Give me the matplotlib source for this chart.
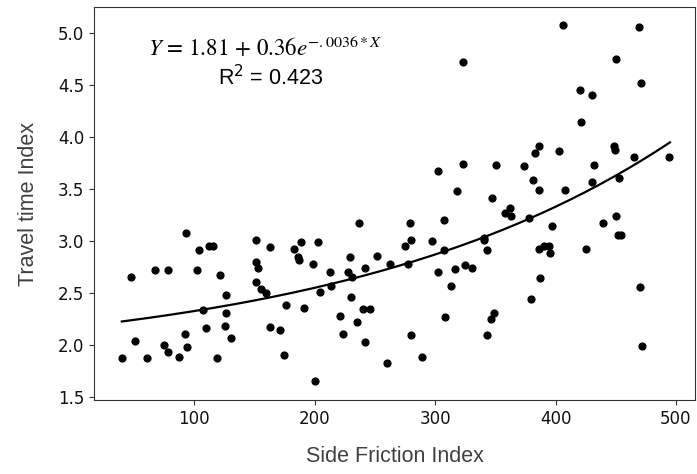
import matplotlib.pyplot as plt
import numpy as np

# side friction index vs travel time index
side_friction = [40.0, 47.5, 50.8, 61.0, 67.6, 75.1, 78.2, 78.7, 87.6, 92.3,
                 93.1, 93.9, 102.2, 104.1, 107.2, 110.0, 112.2, 116.0, 119.1, 121.6,
                 126.0, 126.6, 126.6, 130.7, 151.2, 151.5, 151.7, 152.9, 155.4, 159.5,
                 163.3, 163.3, 171.6, 174.3, 175.9, 182.6, 186.3, 186.7, 189.0, 190.9,
                 198.6, 200.4, 202.7, 204.8, 212.4, 213.5, 221.0, 223.9, 227.6, 229.2,
                 230.3, 231.4, 235.3, 236.9, 240.2, 241.9, 241.9, 246.3, 251.6, 259.9,
                 262.9, 274.9, 277.3, 279.0, 279.8, 279.8, 289.5, 297.3, 302.2, 302.2,
                 307.2, 307.5, 308.5, 313.3, 316.6, 318.5, 323.2, 323.5, 324.6, 330.5,
                 340.4, 340.7, 343.4, 343.4, 346.5, 347.3, 348.7, 350.4, 358.1, 362.2,
                 363.1, 373.6, 378.0, 379.4, 381.3, 383.0, 386.3, 386.6, 386.3, 387.4,
                 390.5, 394.4, 395.4, 397.3, 402.9, 406.2, 408.1, 420.1, 421.2, 425.6,
                 430.0, 430.5, 431.7, 439.4, 448.5, 449.4, 450.2, 450.5, 451.9, 452.4,
                 454.6, 465.1, 469.5, 470.1, 470.7, 471.8, 494.4]
travel_time = [1.87, 2.65, 2.04, 1.87, 2.72, 2.00, 2.72, 1.93, 1.88, 2.11,
               3.08, 1.98, 2.72, 2.91, 2.34, 2.16, 2.95, 2.95, 1.87, 2.67,
               2.18, 2.48, 2.31, 2.07, 2.61, 3.01, 2.80, 2.74, 2.54, 2.50,
               2.94, 2.17, 2.14, 1.90, 2.38, 2.92, 2.85, 2.82, 2.99, 2.36,
               2.78, 1.65, 2.99, 2.51, 2.70, 2.57, 2.28, 2.11, 2.70, 2.85,
               2.46, 2.65, 2.22, 3.17, 2.35, 2.74, 2.03, 2.35, 2.86, 1.83,
               2.78, 2.95, 2.78, 3.17, 3.01, 2.10, 1.88, 3.00, 3.67, 2.70,
               2.91, 3.20, 2.27, 2.57, 2.73, 3.48, 4.72, 3.74, 2.77, 2.74,
               3.03, 3.01, 2.91, 2.10, 2.25, 3.41, 2.31, 3.73, 3.27, 3.32,
               3.24, 3.72, 3.22, 2.44, 3.59, 3.85, 3.49, 3.91, 2.92, 2.64,
               2.95, 2.95, 2.88, 3.14, 3.87, 5.08, 3.49, 4.45, 4.14, 2.92,
               3.57, 4.40, 3.73, 3.17, 3.91, 3.88, 3.24, 4.75, 3.06, 3.61,
               3.06, 3.81, 5.06, 2.56, 4.52, 1.99, 3.81]

# fitted exponential model
a, b, k = 1.81, 0.36, 0.0036
x_fit = np.linspace(40, 495, 200)
y_fit = a + b * np.exp(k * x_fit)

fig = plt.figure(figsize=(6.97, 4.74), dpi=100)
ax = fig.add_axes([0.135, 0.156, 0.862, 0.829])

ax.scatter(side_friction, travel_time, s=24, color='black', zorder=3)
ax.plot(x_fit, y_fit, color='black', linewidth=1.6, zorder=2)

ax.set_xlim(17, 515.7)
ax.set_ylim(1.47, 5.25)
ax.set_xticks([100, 200, 300, 400, 500])
ax.set_yticks([1.5, 2.0, 2.5, 3.0, 3.5, 4.0, 4.5, 5.0])
ax.tick_params(labelsize=12, color='#333333', labelcolor='#111111')
for s in ax.spines.values():
    s.set_color('#333333')

ax.set_xlabel('Side Friction Index', fontsize=15.5, color='#404040',
              family='Liberation Sans', labelpad=13)
ax.set_ylabel('Travel time Index', fontsize=15.5, color='#404040',
              family='Liberation Sans', labelpad=14)

# equation and r-squared
ax.text(0.09, 0.895, r'$Y\,=\,1.81\,+\,0.36e^{-.0036*X}$', transform=ax.transAxes,
        fontsize=16.5, math_fontfamily='stix', va='center', ha='left')
ax.text(0.206, 0.82, r'R$^2$ = 0.423', transform=ax.transAxes,
        fontsize=15.5, family='Liberation Sans', va='center', ha='left')

fig.savefig('out.png', dpi=100)
